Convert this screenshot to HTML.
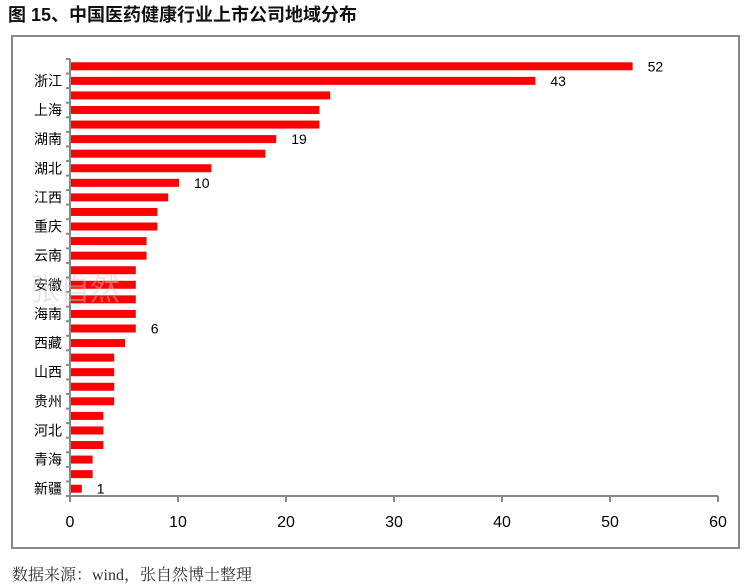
<!DOCTYPE html>
<html><head><meta charset="utf-8"><style>
body{margin:0;background:#fff;width:744px;height:586px;overflow:hidden}
svg{display:block}
</style></head><body>
<svg width="744" height="586" xmlns="http://www.w3.org/2000/svg" font-family="Liberation Sans, Noto Sans CJK SC, sans-serif">
<text x="8" y="21" font-size="18" font-weight="bold" fill="#111">图 15、中国医药健康行业上市公司地域分布</text>
<rect x="12" y="36" width="727" height="512" fill="none" stroke="#888" stroke-width="2"/>
<g id="bars" fill="#f00"></g>
<g id="lab" font-size="14" fill="#000"></g>
<line x1="70" y1="59" x2="70" y2="496" stroke="#888" stroke-width="2"/>
<line x1="70" y1="496" x2="718" y2="496" stroke="#888" stroke-width="2"/>
<g id="ticks" stroke="#888" stroke-width="2"></g>
<g font-size="16" fill="#000" text-anchor="middle">
<text x="70" y="527">0</text><text x="178" y="527">10</text><text x="286" y="527">20</text><text x="394" y="527">30</text><text x="502" y="527">40</text><text x="610" y="527">50</text><text x="718" y="527">60</text>
</g>
<text x="75" y="300" font-size="30" fill="#ccc" opacity="0.45" text-anchor="middle">张自然</text>
<text x="12" y="580" font-size="16" fill="#333" font-family="Liberation Serif, Noto Serif CJK SC, serif">数据来源：wind，张自然博士整理</text>
</svg>
<script>
var v=[52,43,24,23,23,19,18,13,10,9,8,8,7,7,6,6,6,6,6,5,4,4,4,4,3,3,3,2,2,1];
var names=["浙江","上海","湖南","湖北","江西","重庆","云南","安徽","海南","西藏","山西","贵州","河北","青海","新疆"];
var lbl={0:52,1:43,5:19,8:10,18:6,29:1};
var ns="http://www.w3.org/2000/svg",b=document.getElementById('bars'),l=document.getElementById('lab'),t=document.getElementById('ticks');
var band=437/30;
function el(p,tag,a,txt){var e=document.createElementNS(ns,tag);for(var k in a)e.setAttribute(k,a[k]);if(txt!=null)e.textContent=txt;p.appendChild(e);}
for(var i=0;i<30;i++){var c=59+band*(i+0.5);
el(b,'rect',{x:71,y:c-4,width:v[i]*10.8,height:8});
if(lbl[i]!=null)el(l,'text',{x:71+v[i]*10.8+15,y:c+5},lbl[i]);
if(i%2==1)el(l,'text',{x:62,y:c+5,'text-anchor':'end'},names[(i-1)/2]);
}
for(var i=0;i<=30;i++){var y=59+band*i;el(t,'line',{x1:66,y1:y,x2:70,y2:y});}
for(var k=0;k<=6;k++){var x=70+k*108;el(t,'line',{x1:x,y1:496,x2:x,y2:502});}
</script>
</body></html>
